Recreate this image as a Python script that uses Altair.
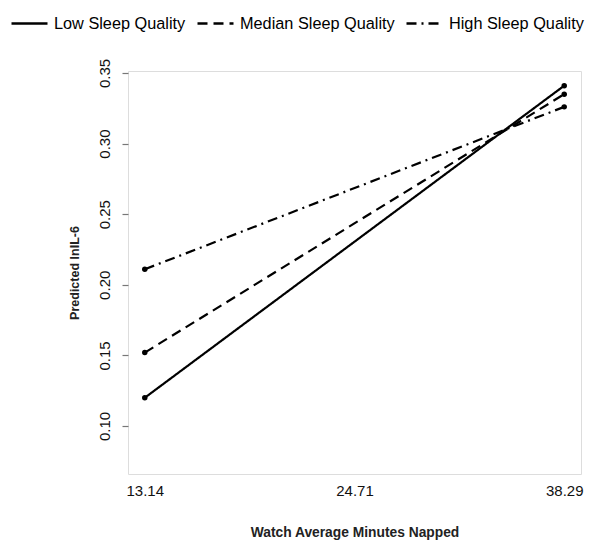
import altair as alt
import pandas as pd

x_labels = ["13.14", "24.71", "38.29"]
series = ["Low Sleep Quality", "Median Sleep Quality", "High Sleep Quality"]
low_vals = [0.120, 0.341]
median_vals = [0.152, 0.335]
high_vals = [0.211, 0.326]
point_x = ["13.14", "38.29"]
y_ticks = [0.10, 0.15, 0.20, 0.25, 0.30, 0.35]

rows = []
for name, vals in zip(series, [low_vals, median_vals, high_vals]):
    for xv, yv in zip(point_x, vals):
        rows.append({"minutes": xv, "value": yv, "group": name})
df = pd.DataFrame(rows)

font = "Liberation Sans"

x_enc = alt.X(
    "minutes:O",
    scale=alt.Scale(type="point", domain=x_labels, padding=0.08),
    axis=alt.Axis(
        title="Watch Average Minutes Napped",
        labelAngle=0,
        labelFontSize=15,
        labelColor="#111",
        labelFont=font,
        labelPadding=9,
        ticks=False,
        domain=False,
        titleFont=font,
        titleFontSize=13.8,
        titleFontWeight="bold",
        titleColor="#222",
        titlePadding=27,
    ),
)
y_enc = alt.Y(
    "value:Q",
    scale=alt.Scale(domain=[0.066, 0.3514], nice=False, zero=False),
    axis=alt.Axis(
        title="Predicted lnIL-6",
        values=y_ticks,
        format=".2f",
        labelAngle=270,
        labelAlign="center",
        labelBaseline="bottom",
        labelFontSize=15,
        labelColor="#111",
        labelFont=font,
        labelPadding=10,
        tickSize=6,
        tickColor="#777",
        tickWidth=1.2,
        domain=False,
        grid=False,
        titleFont=font,
        titleFontSize=12.5,
        titleFontWeight="bold",
        titleColor="#222",
        titlePadding=16,
    ),
)

dash_scale = alt.Scale(domain=series, range=[[1, 0], [10, 6], [10, 5, 2, 5]])

lines = alt.Chart(df).mark_line(color="black", strokeWidth=2.2).encode(
    x=x_enc,
    y=y_enc,
    strokeDash=alt.StrokeDash(
        "group:N",
        scale=dash_scale,
        sort=series,
        legend=alt.Legend(
            title=None,
            orient="none",
            legendX=-118,
            legendY=-67,
            direction="horizontal",
            symbolType="stroke",
            symbolSize=1296,
            symbolStrokeWidth=2.5,
            symbolStrokeColor="black",
            labelFontSize=16.3,
            labelFont=font,
            labelColor="black",
            columnPadding=6,
            symbolOffset=0,
            labelOffset=5,
            padding=0,
        ),
    ),
)

points = alt.Chart(df).mark_point(filled=True, color="black", size=30, opacity=1).encode(
    x=x_enc,
    y=y_enc,
)

chart = (
    alt.layer(lines, points)
    .properties(
        width=453,
        height=403,
        autosize=alt.AutoSizeParams(type="none"),
        padding={"left": 120, "top": 63, "right": 14, "bottom": 69},
    )
    .configure_view(stroke="#888", strokeWidth=1.5)
    .configure(font=font)
)

chart.save("out.html", embed_options={"renderer": "svg", "actions": False})
